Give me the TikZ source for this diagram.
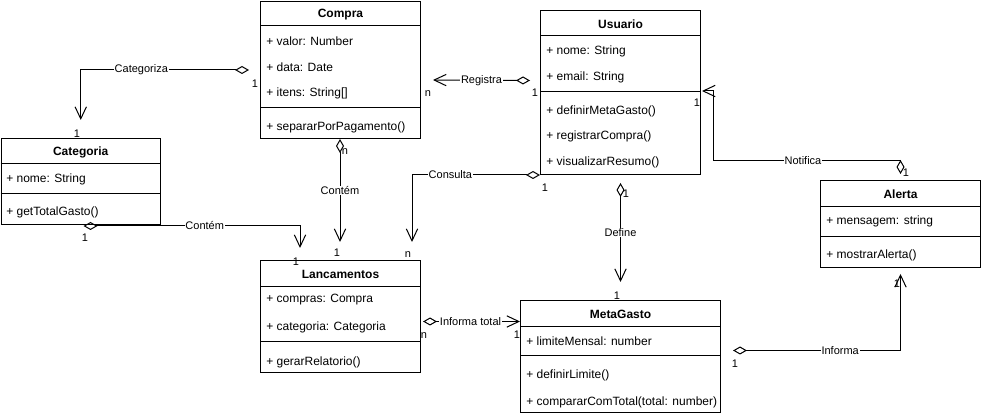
\documentclass[tikz,border=0pt]{standalone}
\usepackage{fontspec}
\setmainfont{Liberation Sans}
\usetikzlibrary{arrows.meta,calc}
\tikzset{
	cls/.style={draw,anchor=north west,inner sep=0pt,line width=0.75pt},
	ttl/.style={inner sep=0pt,font=\bfseries\fontsize{9}{11}\selectfont},
	mbr/.style={anchor=west,inner sep=0pt,font=\fontsize{9}{11}\selectfont},
	rel/.style={line width=0.75pt,{Diamond[open,length=10.5pt,width=6pt]}-{Straight Barb[length=9pt,width=8.5pt]}},
	lbl/.style={fill=white,inner sep=0.6pt,font=\fontsize{8.25}{10}\selectfont},
	mlt/.style={inner sep=0pt,font=\fontsize{8.25}{10}\selectfont}
}
\begin{document}
\begin{tikzpicture}[x=0.75pt,y=-0.75pt]
	\useasboundingbox (0,0) rectangle (981,416);
	% classes: name/x/top/width/height/title line/method line
	\foreach \n/\x/\y/\w/\h/\t/\s in {Compra/260/1/160/137/26/108, Usuario/540/10/160/164/36/92,
		Categoria/0.5/138/159.5/86/164/194, Lancamentos/260/260/160/112/287/342,
		MetaGasto/520/300/200/112/327/356, Alerta/820/180/160/87/207/237}{
		\node[cls,minimum width=\w*0.75pt,minimum height=\h*0.75pt] (\n) at (\x,\y) {};
		\node[ttl] (\n-t) at ($(\n.north)!0.5!(\n.north |- 0,\t)+(0,1)$) {\n};
		\draw[line width=0.75pt] (\n.west |- 0,\t) -- (\n.east |- 0,\t) (\n.west |- 0,\s) -- (\n.east |- 0,\s);
	}
	% members
	\foreach \x/\y/\txt [count=\i] in {266/41/+ valor: Number, 266/67/+ data: Date, 266/93/+ itens: String[],
		266/127/+ separarPorPagamento(), 546/51/+ nome: String, 546/77/+ email: String,
		546/111/+ definirMetaGasto(), 546/136/+ registrarCompra(), 546/162/+ visualizarResumo(),
		6/179/+ nome: String, 6/212/+ getTotalGasto(), 266/300/+ compras: Compra,
		266/327/+ categoria: Categoria, 266/362/+ gerarRelatorio(), 526/341/+ limiteMensal: number,
		526/375/+ definirLimite(), 526/402/+ compararComTotal(total: number),
		826/221/+ mensagem: string, 826/255/+ mostrarAlerta()}{
		\node[mbr] (m\i) at (\x,\y) {\txt};
	}
	% loose ends of the relations
	\path (Compra.north west) ++(-11,69) coordinate (catS)
		(Categoria.north) ++(0,-18) coordinate (catE)
		(Compra.north east) ++(12,79) coordinate (regE)
		(Usuario.west) ++(-10,-12) coordinate (regS)
		(Usuario.north east) ++(1,81) coordinate (notE)
		(Alerta.north) ++(0,-6) coordinate (notS)
		(Lancamentos.north east) ++(-9,-18) coordinate (conE)
		(Categoria.south west) ++(83,1) coordinate (cntS)
		(Lancamentos.north west) ++(40,-12) coordinate (cntE)
		(Compra.south west) ++(80,0) coordinate (cmpS)
		(Lancamentos.north west) ++(80,-18) coordinate (cmpE)
		(Usuario.south) ++(0,8) coordinate (defS)
		(MetaGasto.north) ++(0,-18) coordinate (defE)
		(Lancamentos.east) ++(2,5) coordinate (infS)
		(MetaGasto.east) ++(12,-6) coordinate (infoS)
		(Alerta.south) ++(0,6) coordinate (infoE);
	% relations
	\draw[rel] (catS) -| node[lbl,pos=0.32]{Categoriza} (catE);
	\draw[rel] (regS) -- node[lbl]{Registra} (regE);
	\draw[rel] (notS) |- node[lbl,pos=0.76]{Notifica} ($(notE)+(11,70)$) |- (notE);
	\draw[rel] (Usuario.south west) -| node[lbl,pos=0.35]{Consulta} (conE);
	\draw[rel] (cntS) -| node[lbl,pos=0.28]{Contém} (cntE);
	\draw[rel] (cmpS) -- node[lbl,pos=0.5]{Contém} (cmpE);
	\draw[rel] (defS) -- node[lbl,pos=0.5]{Define} (defE);
	\draw[rel] (infS) -- node[lbl,pos=0.49]{Informa total} (MetaGasto.west |- infS);
	\draw[rel] (infoS) -| node[lbl,pos=0.32]{Informa} (infoE);
	% multiplicities
	\foreach \x/\y/\t [count=\i] in {255/84/1, 77/134/1, 428/94/n, 535/93/1, 697/103/1, 906/173/1,
		545/188/1, 408/255/n, 85/238/1, 296/262/1, 345/152/n, 337/253/1, 626/194/1, 617/296/1,
		424/336/n, 517/335/1, 735/364/1, 897/284/1}{
		\node[mlt] (k\i) at (\x,\y) {\t};
	}
\end{tikzpicture}
\end{document}
